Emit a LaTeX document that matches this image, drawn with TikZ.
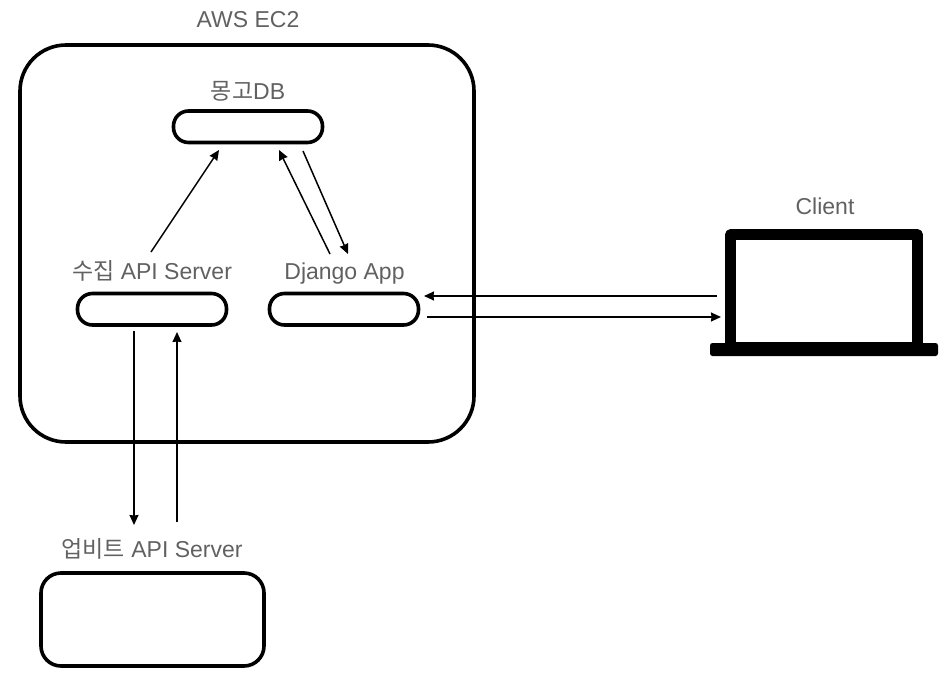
\documentclass[tikz,border=0pt]{standalone}
\usepackage{fontspec}
\setmainfont{Liberation Sans}
\newfontfamily\cjk{Noto Sans CJK KR}
\usetikzlibrary{arrows.meta}

\begin{document}
\begin{tikzpicture}[
  x=1pt,
  y=-1pt,
  box/.style={draw=black,line width=3.6pt,fill=white},
  pill/.style={box,rounded corners=15pt},
  link/.style={-{Stealth[length=10pt,width=9pt,inset=0.5pt]},line width=1.5pt},
  lab/.style={font=\fontsize{23}{26}\selectfont,text=black!62,inner sep=0pt}
]
\useasboundingbox (0,0) rectangle (950,680);
\path[box,rounded corners=46pt] (20,45) rectangle (474,442);
\path[pill] (173.5,111) rectangle (322.5,142.5);
\path[pill] (77.5,293.5) rectangle (226.5,325);
\path[pill] (269.5,293.5) rectangle (418.5,325);
\path[box,rounded corners=20pt] (41,573) rectangle (264,666);
% laptop
\path[draw=black,line width=10.5pt,fill=white,line join=round] (730.5,234.5) rectangle (917.5,347);
\fill[black,rounded corners=2.5pt] (710,343) rectangle (938,356);
\node[lab] (ec2) at (248,20) {AWS EC2};
\node[lab] (mongo) at (248,91) {{\cjk 몽고}DB};
\node[lab] (collect) at (152,271) {{\cjk 수집} API Server};
\node[lab] (django) at (344.5,274) {Django App};
\node[lab] (upbit) at (152,549) {{\cjk 업비트} API Server};
\node[lab] (client) at (825,206) {Client};
\coordinate (c1) at (151,252);
\coordinate (m1) at (219,150);
\coordinate (d1) at (330,254);
\coordinate (m2) at (279,150);
\coordinate (m3) at (303,151);
\coordinate (d2) at (348,254);
\coordinate (c2) at (134,331);
\coordinate (u1) at (134,525);
\coordinate (u2) at (177,522);
\coordinate (c3) at (177,332);
\coordinate (l1) at (717,296);
\coordinate (a1) at (424,296);
\coordinate (a2) at (427,317);
\coordinate (l2) at (721,317);
\draw[link] (c1) -- (m1);
\draw[link] (d1) -- (m2);
\draw[link] (m3) -- (d2);
\draw[link] (c2) -- (u1);
\draw[link] (u2) -- (c3);
\draw[link] (l1) -- (a1);
\draw[link] (a2) -- (l2);
\end{tikzpicture}
\end{document}
